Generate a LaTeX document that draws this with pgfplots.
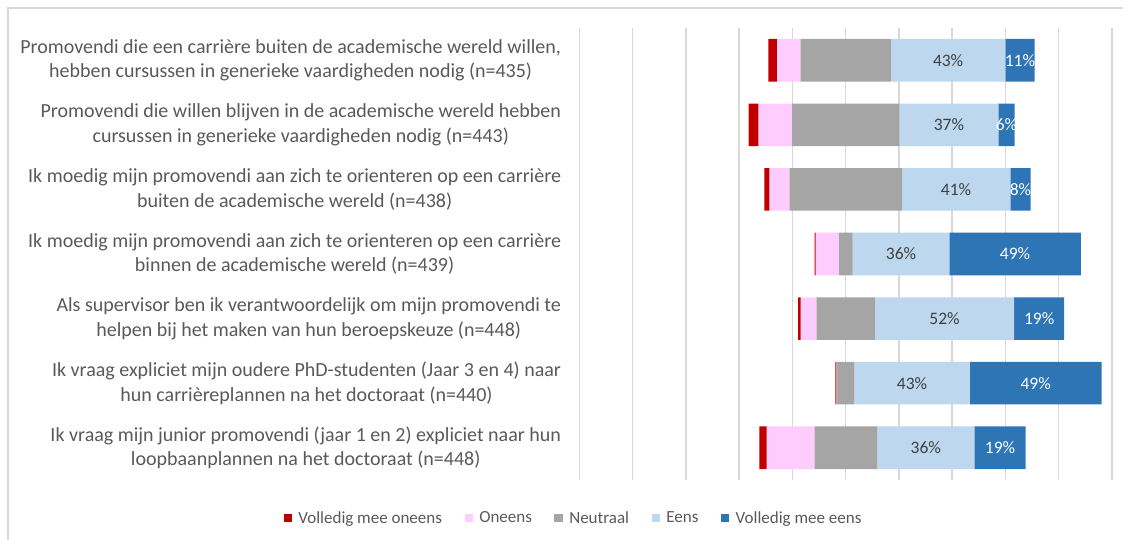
\documentclass[border=0pt]{standalone}
\usepackage{pgfplots}
\pgfplotsset{compat=1.18}
\usepackage{pgfplotstable}
\usepackage{fontspec}
\setmainfont{Carlito}

\definecolor{cvmo}{HTML}{C00000}
\definecolor{conee}{HTML}{FFCCFF}
\definecolor{cneut}{HTML}{A5A5A5}
\definecolor{ceens}{HTML}{BDD7EE}
\definecolor{cvme}{HTML}{2E75B6}
\definecolor{ctxt}{HTML}{595959}
\definecolor{clab}{HTML}{404040}
\definecolor{cgrid}{HTML}{D9D9D9}

% Shares per statement (%). The x axis runs 0..200 with the neutral midpoint at 100;
% off = left end of each bar on that scale.
% pe / pv = centre of the Eens / Volledig mee eens segment, le / lv = printed label.
\pgfplotstableread{
row off    vmo  onee neut eens vme  pe      pv      le lv
0   71.00  3.2  8.8  34.0 43.0 11.0 138.50  165.50  43 11
1   63.50  3.7  12.6 40.4 37.2 6.1  138.80  160.45  37 6
2   69.50  1.8  7.6  42.2 40.8 7.6  141.50  165.70  41 8
3   88.35  0.4  8.6  5.3  36.3 49.4 120.80  163.65  36 49
4   82.10  1.0  5.9  22.0 52.3 18.8 137.15  172.70  52 19
5   96.15  0.4  0.2  6.5  43.4 49.5 124.95  171.40  43 49
6   67.60  2.7  17.9 23.6 36.6 19.2 130.10  158.00  36 19
}\likert

\pgfplotsset{
  frame/.style={
    at={(579.5pt,60pt)}, anchor=south west,
    scale only axis, width=532.3pt, height=452pt,
    xmin=0, xmax=200, ymin=-0.5, ymax=6.5, y dir=reverse,
  },
}

\begin{document}
\begin{tikzpicture}[x=1pt,y=1pt]
\useasboundingbox (0,0) rectangle (1123,540);
\draw[cgrid, line width=1.5pt] (8,0) -- (8,532) -- (1123,532);

\begin{axis}[
  frame,
  xbar stacked, bar width=0.66,
  axis line style={draw=none},
  major tick length=0pt,
  xtick={0,20,...,200}, xticklabels={},
  xmajorgrids, major grid style={cgrid, line width=1.5pt},
  ytick={0,...,6},
  yticklabels={
    {Promovendi die een carrière buiten de academische wereld willen,\\hebben cursussen in generieke vaardigheden nodig (n=435)},
    {Promovendi die willen blijven in de academische wereld hebben\\cursussen in generieke vaardigheden nodig (n=443)},
    {Ik moedig mijn promovendi aan zich te orienteren op een carrière\\buiten de academische wereld (n=438)},
    {Ik moedig mijn promovendi aan zich te orienteren op een carrière\\binnen de academische wereld (n=439)},
    {Als supervisor ben ik verantwoordelijk om mijn promovendi te\\helpen bij het maken van hun beroepskeuze (n=448)},
    {Ik vraag expliciet mijn oudere PhD-studenten (Jaar 3 en 4) naar\\hun carrièreplannen na het doctoraat (n=440)},
    {Ik vraag mijn junior promovendi (jaar 1 en 2) expliciet naar hun\\loopbaanplannen na het doctoraat (n=448)}
  },
  yticklabel style={align=center, text=ctxt, font=\fontsize{20}{24.8}\selectfont, xshift=-15pt},
]
% invisible first segment shifts each bar so that the neutral block is centred on the middle line
\addplot[draw=none, fill=none] table[x=off, y=row] {\likert};
\addplot[fill=cvmo, draw=none] table[x=vmo, y=row] {\likert};
\addplot[fill=conee, draw=none] table[x=onee, y=row] {\likert};
\addplot[fill=cneut, draw=none] table[x=neut, y=row] {\likert};
\addplot[fill=ceens, draw=none] table[x=eens, y=row] {\likert};
\addplot[fill=cvme, draw=none] table[x=vme, y=row] {\likert};
\end{axis}

% percentage labels inside the agree segments, and the legend
\begin{axis}[frame, hide axis,
  /pgf/number format/assume math mode=true,
  legend columns=5,
  legend style={at={(-0.0070,-0.084)}, anchor=center, draw=none, fill=none,
    font=\fontsize{17}{20}\selectfont, text=ctxt,
    nodes={inner xsep=6.5pt},
    /tikz/every even column/.append style={column sep=16pt}},
  legend cell align=left,
  legend image code/.code={\fill[#1] (0pt,-4.15pt) rectangle (8.3pt,4.15pt);},
]
\addlegendimage{fill=cvmo, draw=none}
\addlegendimage{fill=conee, draw=none}
\addlegendimage{fill=cneut, draw=none}
\addlegendimage{fill=ceens, draw=none}
\addlegendimage{fill=cvme, draw=none}
\addplot[only marks, mark=*, mark size=0pt, mark options={draw=none, fill=none},
  point meta=explicit, forget plot,
  nodes near coords={\pgfmathprintnumber{\pgfplotspointmeta}\%},
  every node near coord/.append style={anchor=center, text=clab, font=\fontsize{17.5}{20}\selectfont}]
  table[x=pe, y=row, meta=le] {\likert};
\addplot[only marks, mark=*, mark size=0pt, mark options={draw=none, fill=none},
  point meta=explicit, forget plot,
  nodes near coords={\pgfmathprintnumber{\pgfplotspointmeta}\%},
  every node near coord/.append style={anchor=center, text=white, font=\fontsize{17.5}{20}\selectfont}]
  table[x=pv, y=row, meta=lv] {\likert};
\legend{Volledig mee oneens, Oneens, Neutraal, Eens, Volledig mee eens}
\end{axis}
\end{tikzpicture}
\end{document}
